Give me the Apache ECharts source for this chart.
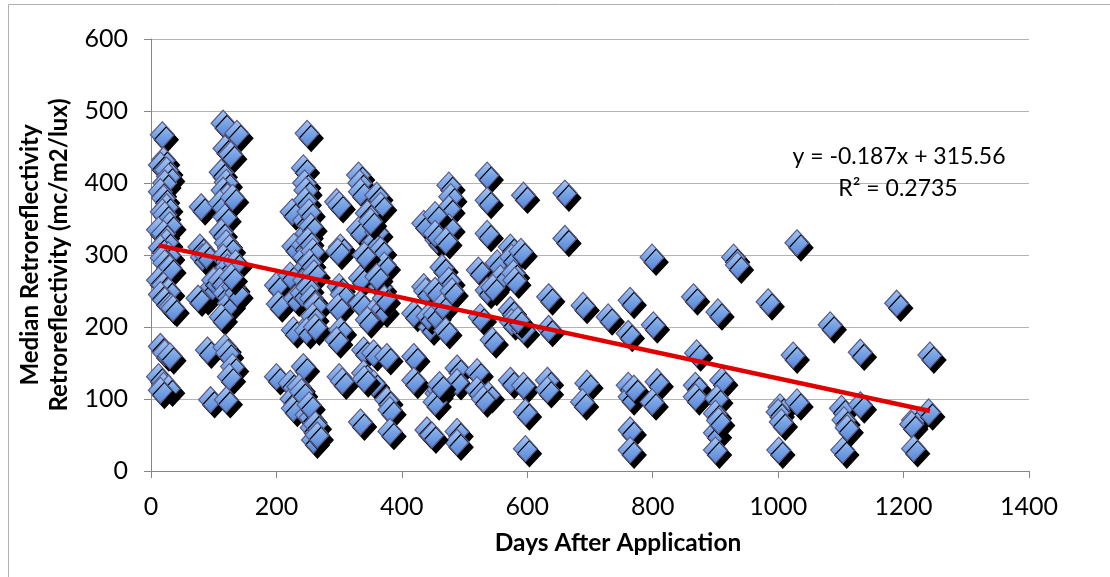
<!DOCTYPE html>
<html>
<head>
<meta charset="utf-8">
<script src="https://cdn.jsdelivr.net/npm/echarts@6/dist/echarts.min.js"></script>
<style>
html,body{margin:0;padding:0;background:#fff;}
#chart{width:1110px;height:577px;}
</style>
</head>
<body>
<div id="chart"></div>
<script>
// Days after application (x) and median retroreflectivity (y), paired by index
const days = [
  18,20,15,25,28,22,15,20,25,18,22,30,12,20,25,15,28,18,22,30,12,20,28,15,22,32,35,15,22,30,12,20,28,15,
  80,78,82,85,98,90,95,88,75,100,
  115,137,118,112,120,115,122,110,118,112,120,125,115,122,110,118,125,112,118,122,130,125,120,135,132,137,128,130,127,
  200,203,200,
  225,228,222,230,227,222,225,227,
  249,243,245,247,246,245,249,243,245,247,245,241,254,243,236,249,259,257,255,
  252,255,250,258,253,260,250,256,262,258,248,262,240,252,262,265,
  296,300,302,298,300,305,298,302,296,300,305,
  331,333,334,360,366,345,331,360,355,366,372,334,366,334,355,370,339,355,376,339,355,376,381,334,381,350,340,360,372,345,340,
  419,419,440,435,435,419,445,456,456,438,442,
  475,478,475,475,453,453,464,475,453,453,488,488,459,453,488,488,448,470,465,480,470,460,
  536,536,536,522,552,557,536,525,544,520,520,538,530,545,
  594,573,575,578,573,575,594,573,594,597,597,580,585,590,
  660,660,634,634,632,632,
  689,695,688,
  729,
  764,761,761,764,764,764,770,
  799,801,807,799,
  865,870,868,868,
  904,910,902,900,900,900,905,
  929,935,
  984,
  1003,1000,1005,1001,
  1030,1024,1030,
  1083,
  1101,1105,1103,1110,
  1131,1131,
  1189,
  1216,1213,1216,
  1242,1240
];
const retro = [
  467,432,425,418,409,400,388,379,367,360,356,342,335,330,318,310,300,296,289,282,265,258,250,245,237,228,226,173,164,160,131,119,115,112,
  367,311,297,242,256,168,99,300,240,265,
  483,469,448,415,401,390,381,372,353,332,317,310,297,283,265,247,233,214,172,164,145,131,99,289,256,247,270,380,440,
  258,232,131,
  360,312,272,240,196,122,100,87,
  469,421,400,390,376,348,330,314,297,283,265,247,205,145,117,78,43,60,74,
  360,340,320,305,290,275,255,240,230,215,195,200,110,92,65,50,
  374,370,311,305,256,245,228,196,182,131,125,
  411,400,388,383,369,358,335,332,317,307,286,268,256,233,221,225,168,164,159,136,122,99,85,68,55,347,300,270,240,210,128,
  159,126,57,344,256,219,200,108,321,250,215,
  397,381,365,339,356,330,283,265,251,217,143,124,113,96,55,40,50,320,230,250,195,120,
  411,376,330,279,289,268,251,214,182,138,113,106,100,255,
  383,311,297,275,224,207,196,126,119,82,31,265,210,305,
  386,323,242,198,126,113,
  230,122,96,
  214,
  237,191,119,103,57,29,115,
  297,203,124,96,
  242,164,119,103,
  221,126,101,80,53,29,70,
  297,286,
  235,
  89,82,68,29,
  317,161,96,
  203,
  87,71,29,60,
  165,92,
  233,
  71,65,31,
  161,82
];
// Trendline reported by the source chart
const trendSlope = -0.187;
const trendIntercept = 315.56;
const trendLabel = 'y = -0.187x + 315.56';
const r2Label = 'R² = 0.2735';
const xTitle = 'Days After Application';
const yTitle = 'Median Retroreflectivity\nRetroreflectivity (mc/m2/lux)';

const points = days.map((d, i) => [d, retro[i]]);
const xMin = Math.min(...days), xMax = Math.max(...days);
const trend = [[xMin, trendIntercept + trendSlope * xMin], [xMax, trendIntercept + trendSlope * xMax]];

const chart = echarts.init(document.getElementById('chart'));
const FONT = 'Lato';
chart.setOption({
  animation: false,
  backgroundColor: '#fff',
  grid: { left: 151, right: 81, top: 39, bottom: 106, containLabel: false },
  xAxis: {
    type: 'value', min: 0, max: 1400, interval: 200,
    axisLine: { show: true, lineStyle: { color: '#868686', width: 1 } },
    axisTick: { show: true, length: 7, lineStyle: { color: '#868686' } },
    splitLine: { show: false },
    axisLabel: { fontFamily: FONT, fontSize: 25, color: '#000', margin: 23, formatter: v => String(v) }
  },
  yAxis: {
    type: 'value', min: 0, max: 600, interval: 100,
    axisLine: { show: true, lineStyle: { color: '#868686', width: 1 } },
    axisTick: { show: true, length: 7, lineStyle: { color: '#868686' } },
    splitLine: { show: true, lineStyle: { color: '#b3b3b3', width: 1 } },
    axisLabel: { fontFamily: FONT, fontSize: 25, color: '#000', margin: 23, formatter: v => String(v) },
    name: yTitle, nameLocation: 'middle', nameGap: 76, nameRotate: 90,
    nameTextStyle: { fontFamily: FONT, fontSize: 24, fontWeight: 'bold', color: '#000', lineHeight: 29, align: 'center' }
  },
  series: [
    {
      type: 'scatter',
      data: points,
      symbol: 'diamond',
      symbolSize: [24, 26],
      itemStyle: {
        color: new echarts.graphic.LinearGradient(0, 0, 0, 1, [
          { offset: 0, color: '#a9c9f5' },
          { offset: 0.5, color: '#78a4e6' },
          { offset: 1, color: '#5684d4' }
        ]),
        borderColor: '#5a5a86', borderWidth: 1.2,
        shadowColor: '#000', shadowBlur: 0, shadowOffsetX: 4, shadowOffsetY: 5,
        opacity: 1
      },
      z: 2
    },
    {
      type: 'line',
      data: trend,
      symbol: 'none',
      lineStyle: { color: '#e10000', width: 4.5 },
      silent: true,
      z: 5
    }
  ],
  graphic: [
    { type: 'rect', shape: { x: 8.5, y: 4.5, width: 1300, height: 800 }, style: { fill: 'none', stroke: '#b0b0b0', lineWidth: 1 }, silent: true },
    { type: 'text', x: 618, y: 543, style: { text: xTitle, font: 'bold 24.5px Lato', fill: '#000', align: 'center', verticalAlign: 'middle', textAlign: 'center', textVerticalAlign: 'middle' }, z: 10 },
    { type: 'text', x: 899, y: 157, style: { text: trendLabel, font: '23px Lato', fill: '#000', align: 'center', verticalAlign: 'middle', textAlign: 'center', textVerticalAlign: 'middle' }, z: 10 },
    { type: 'text', x: 898, y: 189, style: { text: r2Label, font: '23px Lato', fill: '#000', align: 'center', verticalAlign: 'middle', textAlign: 'center', textVerticalAlign: 'middle' }, z: 10 }
  ]
});
</script>
</body>
</html>
